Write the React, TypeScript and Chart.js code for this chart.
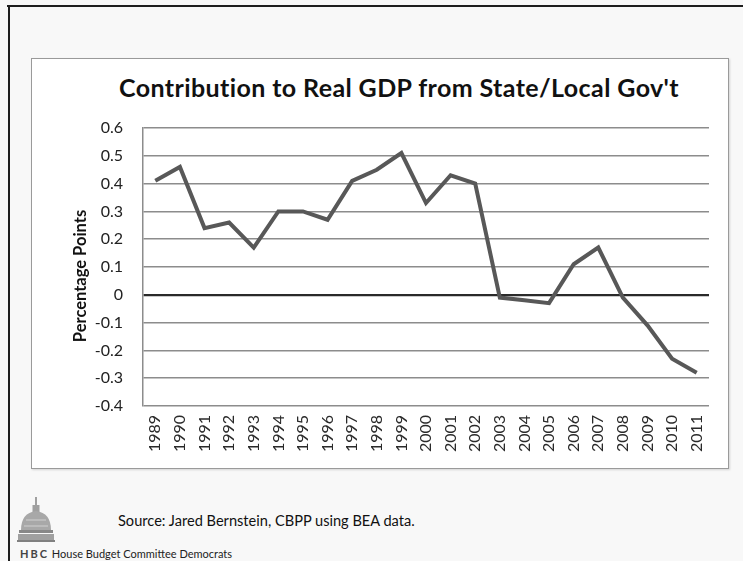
import React, { useEffect, useRef } from "react";
import { Chart, registerables } from "chart.js";

Chart.register(...registerables);

const years = [
  "1989", "1990", "1991", "1992", "1993", "1994", "1995", "1996", "1997", "1998", "1999", "2000",
  "2001", "2002", "2003", "2004", "2005", "2006", "2007", "2008", "2009", "2010", "2011",
];
const contribution = [
  0.41, 0.46, 0.24, 0.26, 0.17, 0.30, 0.30, 0.27, 0.41, 0.45, 0.51, 0.33,
  0.43, 0.40, -0.01, -0.02, -0.03, 0.11, 0.17, -0.01, -0.11, -0.23, -0.28,
];
const yMin = -0.4;
const yMax = 0.6;
const yStep = 0.1;

const titleText = "Contribution to Real GDP from State/Local Gov't";
const yAxisTitle = "Percentage Points";
const sourceText = "Source: Jared Bernstein, CBPP using BEA data.";
const footerText = "House Budget Committee Democrats";

const FONT = "Lato, 'Open Sans', sans-serif";

export default function App() {
  const canvasRef = useRef<HTMLCanvasElement | null>(null);

  useEffect(() => {
    document.body.style.margin = "0";
    const canvas = canvasRef.current;
    if (!canvas) return;
    const chart = new Chart(canvas, {
      type: "line",
      data: {
        labels: years,
        datasets: [
          {
            data: contribution,
            borderColor: "#585858",
            borderWidth: 4,
            pointRadius: 0,
            tension: 0,
            fill: false,
          },
        ],
      },
      options: {
        responsive: false,
        animation: false,
        layout: { padding: { top: 70, right: 20, left: 0, bottom: 0 } },
        plugins: { legend: { display: false }, tooltip: { enabled: false }, title: { display: false } },
        scales: {
          x: {
            offset: true,
            grid: { display: false, drawTicks: false },
            border: { display: false },
            ticks: {
              minRotation: 90,
              maxRotation: 90,
              autoSkip: false,
              padding: 9,
              color: "#2a2a2a",
              font: { family: FONT, size: 16 },
            },
            afterFit: (s: any) => {
              s.height = 63;
            },
          },
          y: {
            min: yMin,
            max: yMax,
            grid: {
              drawTicks: false,
              color: (c: any) => (c.tick && Math.abs(c.tick.value) < 1e-9 ? "#2a2a2a" : "#8c8c8c"),
              lineWidth: (c: any) => (c.tick && Math.abs(c.tick.value) < 1e-9 ? 2.2 : 1.5),
            },
            border: { display: true, color: "#8c8c8c", width: 1.5 },
            ticks: {
              stepSize: yStep,
              padding: 20,
              color: "#222",
              font: { family: FONT, size: 16 },
              callback: (v: any) => String(Number(Number(v).toFixed(1))),
            },
            title: { display: false },
            afterFit: (s: any) => {
              s.width = 112;
            },
          },
        },
      },
    });
    return () => chart.destroy();
  }, []);

  return (
    <div
      style={{
        position: "fixed",
        left: 0,
        top: 0,
        width: 743,
        height: 561,
        background: "#f8f8f8",
        overflow: "hidden",
        fontFamily: FONT,
      }}
    >
      <div style={{ position: "absolute", left: 7, top: 5, right: 0, height: 2, background: "#1e1e1e" }} />
      <div style={{ position: "absolute", left: 8, top: 5, width: 2, bottom: 0, background: "#1e1e1e" }} />
      <div
        style={{
          position: "absolute",
          left: 31,
          top: 58,
          width: 698,
          height: 411,
          background: "#fff",
          border: "1.5px solid #9a9a9a",
          boxSizing: "border-box",
          boxShadow: "1px 1px 2px rgba(0,0,0,0.15)",
        }}
      />
      <div
        style={{
          position: "absolute",
          left: 99,
          top: 72,
          width: 600,
          textAlign: "center",
          whiteSpace: "nowrap",
          fontSize: 25,
          letterSpacing: 0.4,
          lineHeight: "30px",
          fontWeight: "bold",
          color: "#111",
        }}
      >
        {titleText}
      </div>
      <canvas
        ref={canvasRef}
        width={698}
        height={411}
        style={{ position: "absolute", left: 31, top: 58, width: 698, height: 411 }}
      />
      <div
        style={{
          position: "absolute",
          left: 80 - 100,
          top: 276 - 10,
          width: 200,
          height: 20,
          lineHeight: "20px",
          textAlign: "center",
          whiteSpace: "nowrap",
          transform: "rotate(-90deg)",
          fontSize: 16.5,
          fontWeight: "bold",
          color: "#111",
        }}
      >
        {yAxisTitle}
      </div>
      <div
        style={{
          position: "absolute",
          left: 118,
          top: 511,
          whiteSpace: "nowrap",
          fontSize: 14.6,
          lineHeight: "20px",
          color: "#111",
        }}
      >
        {sourceText}
      </div>
      <svg
        style={{ position: "absolute", left: 14, top: 496, width: 44, height: 52 }}
        viewBox="0 0 44 52"
      >
        <rect x="21.2" y="1" width="1.6" height="9" fill="#8a8a8a" />
        <rect x="18.5" y="9" width="7" height="7" fill="#a0a0a0" />
        <path d="M7 34 Q7 17 22 15 Q37 17 37 34 Z" fill="#a8a8a8" />
        <path d="M10 30 L34 30" stroke="#d0d0d0" strokeWidth="1" />
        <path d="M12 24 L32 24" stroke="#d0d0d0" strokeWidth="1" />
        <rect x="5" y="34" width="34" height="3" fill="#888" />
        <rect x="4" y="38" width="36" height="6" fill="#a0a0a0" />
        <rect x="3" y="44" width="38" height="2" fill="#808080" />
      </svg>
      <div
        style={{
          position: "absolute",
          left: 20,
          top: 547,
          whiteSpace: "nowrap",
          fontSize: 11,
          lineHeight: "13px",
          color: "#222",
        }}
      >
        <b style={{ letterSpacing: 2, color: "#444" }}>HBC</b> {footerText}
      </div>
    </div>
  );
}
